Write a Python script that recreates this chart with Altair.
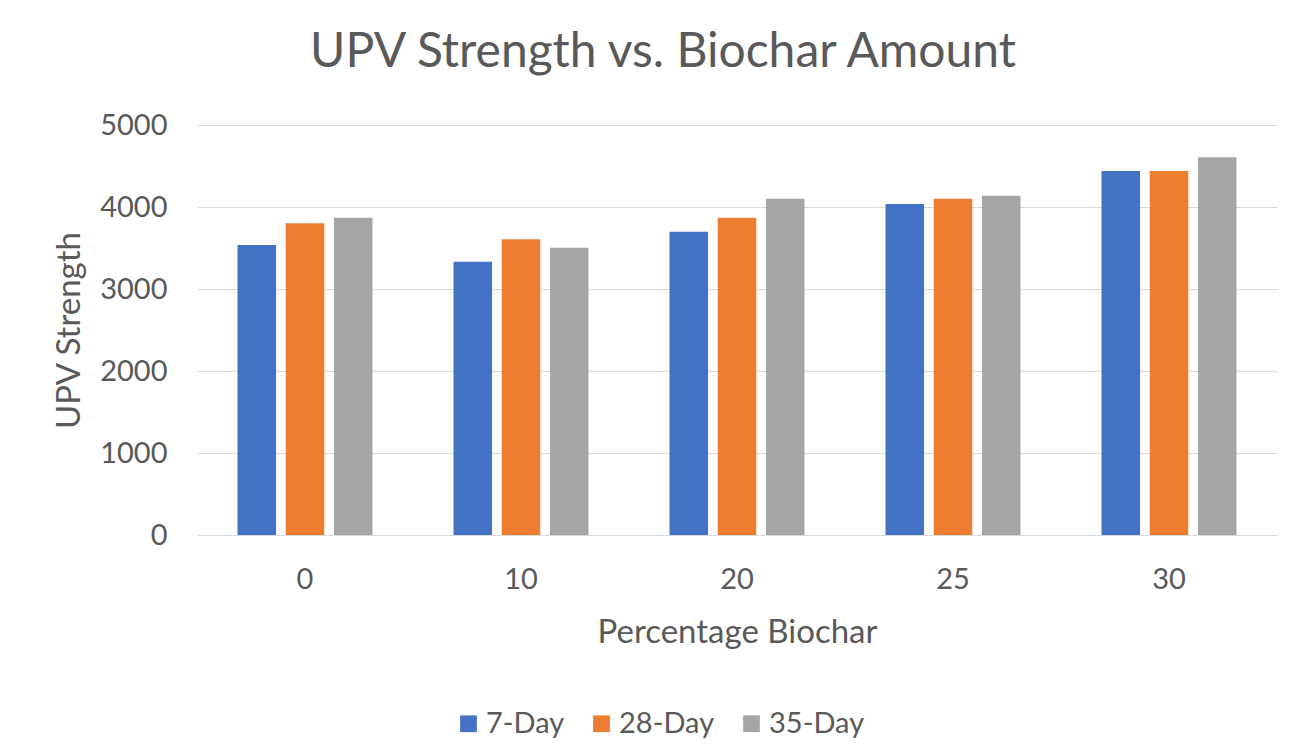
import altair as alt
import pandas as pd

categories = ["0", "10", "20", "25", "30"]
series = ["7-Day", "28-Day", "35-Day"]
day7 = [3537, 3333, 3699, 4037, 4439]
day28 = [3801, 3606, 3870, 4101, 4439]
day35 = [3870, 3504, 4101, 4138, 4606]
colors = ["#4472C4", "#ED7D31", "#A5A5A5"]

rows = []
for s, vals in zip(series, [day7, day28, day35]):
    for c, v in zip(categories, vals):
        rows.append({"Percentage": c, "Series": s, "Value": v})
df = pd.DataFrame(rows)

FONT = "Lato"
TXT = "#595959"

chart = alt.Chart(df).mark_bar().encode(
    x=alt.X("Percentage:N", sort=categories,
            scale=alt.Scale(paddingInner=0.375, paddingOuter=0.1875),
            axis=alt.Axis(title="Percentage Biochar", labelAngle=0, ticks=False,
                          domainColor="#D9D9D9", labelPadding=30, titlePadding=22,
                          titleFontSize=33)),
    xOffset=alt.XOffset("Series:N", sort=series,
                        scale=alt.Scale(paddingInner=0.2, paddingOuter=0)),
    y=alt.Y("Value:Q", scale=alt.Scale(domain=[0, 5000]),
            axis=alt.Axis(title="UPV Strength", values=[0, 1000, 2000, 3000, 4000, 5000],
                          format="d", ticks=False, domain=False, labelPadding=30,
                          titlePadding=13, titleFontSize=33, gridColor="#D9D9D9")),
    color=alt.Color("Series:N", sort=series,
                    scale=alt.Scale(domain=series, range=colors),
                    legend=alt.Legend(title=None, orient="none", direction="horizontal",
                                      legendX=257, legendY=584, symbolType="square",
                                      symbolSize=280, symbolStrokeWidth=0,
                                      columnPadding=22, labelOffset=3)),
).properties(
    width=1080,
    height=410,
    title=alt.TitleParams("UPV Strength vs. Biochar Amount", anchor="middle",
                          dx=-74, offset=34, fontSize=48, font=FONT,
                          color=TXT, fontWeight="normal"),
    autosize=alt.AutoSizeParams(type="none"),
    padding={"left": 189, "top": 117, "right": 5, "bottom": 214},
).configure_axis(
    labelFont=FONT, titleFont=FONT, labelFontSize=29,
    labelColor=TXT, titleColor=TXT, titleFontWeight="normal",
).configure_legend(
    labelFont=FONT, labelFontSize=29, labelColor=TXT,
).configure_view(stroke=None)

chart.save("out.html", embed_options={"renderer": "svg", "actions": False})
